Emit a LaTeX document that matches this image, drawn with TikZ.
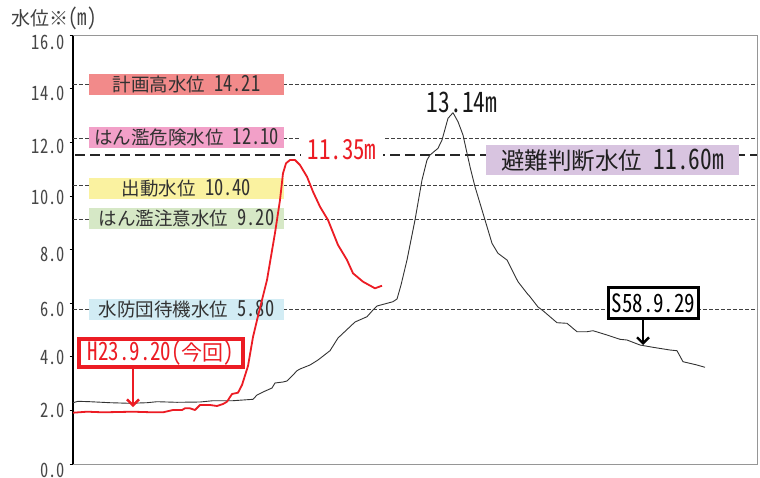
\documentclass[tikz,border=0pt]{standalone}
\usepackage{fontspec}
\setmainfont{Noto Sans CJK JP}[RawFeature={+hwid}]
\newfontfamily\lat{Noto Sans CJK JP}[RawFeature={+hwid}, Scale=1.2, FakeStretch=0.83]
\usetikzlibrary{arrows.meta}
\definecolor{txt}{RGB}{50,50,50}
\definecolor{axisgray}{RGB}{150,150,150}
\definecolor{hred}{RGB}{236,28,36}
\definecolor{cA}{RGB}{242,138,138}
\definecolor{cB}{RGB}{242,160,200}
\definecolor{cC}{RGB}{250,242,160}
\definecolor{cD}{RGB}{214,232,198}
\definecolor{cE}{RGB}{210,236,244}
\definecolor{cF}{RGB}{216,196,224}
\newcommand{\fsz}[1]{\fontsize{#1}{#1}\selectfont}
\begin{document}
\begin{tikzpicture}[x=1pt,y=-1pt,
  refline/.style={line width=0.8pt, draw=black!75, dash pattern=on 3.5pt off 2.5pt},
  avoidline/.style={line width=2.2pt, draw=black!85, dash pattern=on 10pt off 5pt},
  lvl/.style={minimum width=195pt, minimum height=21pt, inner sep=0pt, text=txt, font=\fsz{18.5}},
  ylab/.style={anchor=east, inner sep=0pt, text=black!72, font={\lat\fsz{16.5}}},
  tickmark/.style={line width=0.8pt, draw=black},
  redcurve/.style={draw=hred, line width=1.8pt, line join=round},
  blackcurve/.style={draw=black!80, line width=0.9pt, line join=round},
  tagbox/.style={fill=white, inner sep=0pt, minimum height=31pt},
  tagarrow/.style={line width=2.4pt, -{Straight Barb[length=6pt,width=12pt,line width=2.4pt]}}
]
\path[use as bounding box, fill=white] (0,0) rectangle (760,477);

% frame
\draw[axisgray, line width=0.9pt] (73,35.5) -- (757,35.5) -- (757,464) -- (73,464);
\draw[black, line width=1.4pt] (73,35.5) -- (73,464);
\foreach \v in {0,...,8} {
  \draw[tickmark] (69.5,{464-\v*53.6}) -- (73,{464-\v*53.6});
}

% y labels
\node[ylab] (y16) at (65,42) {16.0};
\node[ylab] (y14) at (65,93) {14.0};
\node[ylab] (y12) at (65,146) {12.0};
\node[ylab] (y10) at (65,197) {10.0};
\node[ylab] (y8) at (65,254) {8.0};
\node[ylab] (y6) at (65,309) {6.0};
\node[ylab] (y4) at (65,357) {4.0};
\node[ylab] (y2) at (65,410) {2.0};
\node[ylab] (y0) at (65,470) {0.0};

% title
\node[anchor=west, inner sep=0pt, text=black!75, font=\fsz{19}] (title) at (11,18.5) {水位※{\lat (m)}};

% reference lines
\draw[refline] (73,84.3) -- (757,84.3);
\draw[refline] (73,138.3) -- (757,138.3);
\draw[refline] (73,185.7) -- (757,185.7);
\draw[refline] (73,219) -- (757,219);
\draw[refline] (73,309.5) -- (757,309.5);
\draw[avoidline] (75,155) -- (757,155);

% level boxes
\node[lvl, fill=cA] (lvA) at (186.5,84.5) {計画高水位 {\lat 14.21}};
\node[lvl, fill=cB] (lvB) at (186.5,137.5) {はん濫危険水位 {\lat 12.10}};
\node[lvl, fill=cC] (lvC) at (186.5,188.5) {出動水位 {\lat 10.40}};
\node[lvl, fill=cD] (lvD) at (186.5,218.5) {はん濫注意水位 {\lat 9.20}};
\node[lvl, fill=cE] (lvE) at (186.5,309.5) {水防団待機水位 {\lat 5.80}};

% evacuation box
\node[fill=cF, minimum width=253pt, minimum height=30pt, inner sep=0pt, text=black!88, font=\fsz{23.5}] (evac) at (612.5,160) {避難判断水位 {\lat 11.60m}};

% 11.35m label with white ground
\node[fill=white, text=hred, inner xsep=6.5pt, inner ysep=4pt, font={\lat\fsz{23}}] (peakred) at (342,149.5) {11.35m};

% curves
\draw[blackcurve] plot coordinates {
(73,402.7) (78,401.3) (90,401.7) (110,402.7) (130,403.3) (147,402.7) (157,401.7) (177,402.3) (200,402) (213,400.7) (233,400.7) (253,399.3) (257,395) (263,392) (272,388) (275,383) (283,382) (287,381) (293,375) (297,370.7) (300,369) (310,365) (318,360) (330,350.7) (338,338) (350,326.7) (355,322) (367,316.7) (373,310) (377,306) (393,301.7) (397,299) (401,285) (407,260) (415,220) (422,180) (427,160) (430,155) (438,148.3) (442,140) (448,118.3) (453,112.7) (458,121.7) (463,135) (470,166.7) (475,186.7) (483,213.3) (492,243.3) (498,253.3) (507,260) (512,270) (518,281.7) (527,293.3) (530,296.7) (538,307) (543,310.7) (557,322.7) (567,323.3) (577,331.7) (587,331.7) (593,330.7) (607,335) (620,339.3) (627,340) (640,345) (653,347.3) (670,350) (677,350.7) (683,361.7) (697,365) (705,367.3)};
\draw[redcurve] plot coordinates {
(73,412.7) (87,411.7) (103,412.3) (133,411.7) (153,412.3) (163,412.3) (173,410) (182,410) (185,408.3) (190,408.3) (195,410) (200,405) (210,405) (217,406) (223,404) (227,401.7) (232,394) (238,392.7) (242,385) (248,366) (253,337) (258,316) (262,300) (267,280) (275,233) (280,200) (283,173.3) (286,163.3) (290,160) (295,160) (300,165) (307,176.7) (313,191.7) (320,206.7) (328,220) (338,245) (347,260) (353,273.3) (363,281.7) (375,288.3) (382,285.7)};

% peak label black
\node[inner sep=0pt, text=black!90, font={\lat\fsz{23.5}}] (peakblack) at (462,102.5) {13.14m};

% tag boxes
\node[tagbox, draw=hred, line width=3.5pt, minimum width=164pt, minimum height=28pt, text=hred, font=\fsz{21}] (h23) at (161,353) {{\lat H23.9.20(}今回{\lat )}};
\node[tagbox, draw=black, line width=3pt, minimum width=90pt, text=black, font={\lat\fsz{21}}] (s58) at (653.5,303) {S58.9.29};

% arrows
\coordinate (h23tip) at (133,407);
\coordinate (s58tip) at (643,345);
\draw[tagarrow, hred] (h23.south -| h23tip) -- (h23tip);
\draw[tagarrow, black] (s58.south -| s58tip) -- (s58tip);
\end{tikzpicture}
\end{document}
